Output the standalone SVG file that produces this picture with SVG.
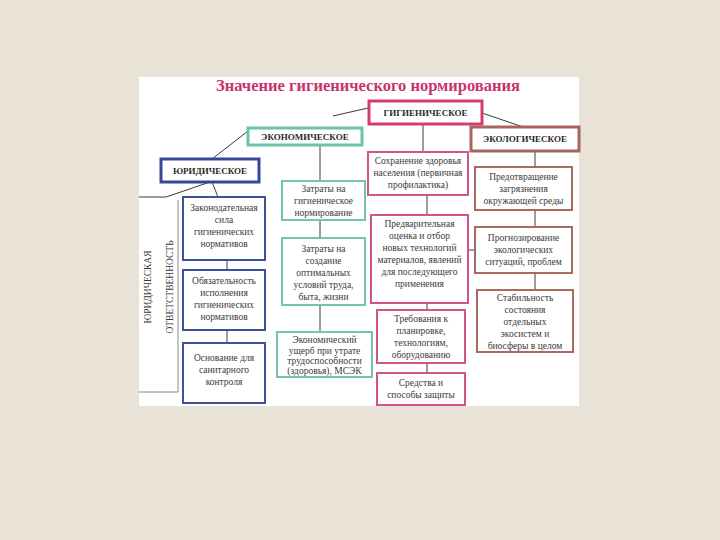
<svg xmlns="http://www.w3.org/2000/svg" width="720" height="540" viewBox="0 0 720 540">
<style>
.t{font-family:"Liberation Serif","DejaVu Serif",serif;font-size:9.5px;fill:#3a3a3a;text-anchor:middle}
.h{font-family:"Liberation Serif","DejaVu Serif",serif;font-size:9px;font-weight:bold;fill:#2a2a2a;text-anchor:middle}
.bl{fill:#fff;stroke:#3d519b;stroke-width:2}
.te{fill:#fff;stroke:#73c4ad;stroke-width:2}
.pk{fill:#fff;stroke:#d2548a;stroke-width:2}
.br{fill:#fff;stroke:#a96a60;stroke-width:2}
.c line,.c polyline{stroke:#3a3a3a;stroke-width:1;fill:none}
</style>
<rect width="720" height="540" fill="#e9e3d7"/>
<rect x="139" y="77" width="440" height="329" fill="#ffffff"/>
<text x="368" y="91" style="font-family:'Liberation Serif',serif;font-size:16.5px;font-weight:bold;fill:#c8336f;text-anchor:middle">Значение гигиенического нормирования</text>

<g class="c" id="connectors">
<line x1="368" y1="108" x2="333" y2="116"/>
<line x1="482" y1="113" x2="535" y2="131"/>
<line x1="248" y1="131" x2="212" y2="159"/>
<line x1="423" y1="124" x2="423" y2="153"/>
<line x1="320" y1="144" x2="320" y2="181"/>
<line x1="535" y1="151" x2="535" y2="167"/>
<line x1="210" y1="182" x2="166" y2="197"/>
<line x1="212" y1="182" x2="218" y2="197"/>
<polyline points="139,197 166,197"/>
<polyline points="178,200 178,392 139,392" style="stroke:#888"/>
<line x1="227" y1="260" x2="227" y2="270"/>
<line x1="227" y1="330" x2="227" y2="343"/>
<line x1="320" y1="220" x2="320" y2="238"/>
<line x1="320" y1="305" x2="320" y2="332"/>
<line x1="427" y1="195" x2="427" y2="215"/>
<line x1="427" y1="303" x2="427" y2="310"/>
<line x1="427" y1="363" x2="427" y2="373"/>
<line x1="468" y1="250" x2="475" y2="250"/>
<line x1="535" y1="210" x2="535" y2="227"/>
<line x1="535" y1="273" x2="535" y2="290"/>
</g>

<g id="resp">
<text class="t" transform="translate(151,287) rotate(-90)">ЮРИДИЧЕСКАЯ</text>
<text class="t" transform="translate(173,287) rotate(-90)">ОТВЕТСТВЕННОСТЬ</text>
</g>

<g id="hyg"><rect x="369" y="101" width="113" height="23" fill="#fff" stroke="#d63a74" stroke-width="3"/><text class="h" x="425.5" y="116">ГИГИЕНИЧЕСКОЕ</text></g>
<g id="econ"><rect x="248" y="128" width="114" height="17" fill="#fff" stroke="#6cc3a9" stroke-width="3"/><text class="h" x="305" y="140">ЭКОНОМИЧЕСКОЕ</text></g>
<g id="ecol"><rect x="471" y="127" width="108" height="24" fill="#fff" stroke="#a6665c" stroke-width="3"/><text class="h" x="525" y="142">ЭКОЛОГИЧЕСКОЕ</text></g>
<g id="jur"><rect x="161" y="159" width="98" height="23" fill="#fff" stroke="#34489a" stroke-width="3"/><text class="h" x="210" y="174">ЮРИДИЧЕСКОЕ</text></g>

<g id="b1"><rect class="bl" x="183" y="197" width="82" height="63"/>
<text class="t" x="224" y="211">Законодательная</text><text class="t" x="224" y="223">сила</text><text class="t" x="224" y="235">гигиенических</text><text class="t" x="224" y="247">нормативов</text></g>
<g id="b2"><rect class="bl" x="183" y="270" width="82" height="60"/>
<text class="t" x="224" y="284">Обязательность</text><text class="t" x="224" y="296">исполнения</text><text class="t" x="224" y="308">гигиенических</text><text class="t" x="224" y="320">нормативов</text></g>
<g id="b3"><rect class="bl" x="183" y="343" width="82" height="60"/>
<text class="t" x="224" y="361">Основание для</text><text class="t" x="224" y="373">санитарного</text><text class="t" x="224" y="385">контроля</text></g>

<g id="e1"><rect class="te" x="282" y="181" width="83" height="39"/>
<text class="t" x="323.5" y="192">Затраты на</text><text class="t" x="323.5" y="204">гигиеническое</text><text class="t" x="323.5" y="216">нормирование</text></g>
<g id="e2"><rect class="te" x="282" y="238" width="83" height="67"/>
<text class="t" x="323.5" y="252">Затраты на</text><text class="t" x="323.5" y="264">создание</text><text class="t" x="323.5" y="276">оптимальных</text><text class="t" x="323.5" y="288">условий труда,</text><text class="t" x="323.5" y="300">быта, жизни</text></g>
<g id="e3"><rect class="te" x="277" y="332" width="95" height="45"/>
<text class="t" x="324.5" y="343">Экономический</text><text class="t" x="324.5" y="353.5">ущерб при утрате</text><text class="t" x="324.5" y="364">трудоспособности</text><text class="t" x="324.5" y="374">(здоровья), МСЭК</text></g>

<g id="g1"><rect class="pk" x="368" y="152" width="100" height="43"/>
<text class="t" x="418" y="164">Сохранение здоровья</text><text class="t" x="418" y="176">населения (первичная</text><text class="t" x="418" y="188">профилактика)</text></g>
<g id="g2"><rect class="pk" x="371" y="215" width="97" height="88"/>
<text class="t" x="419.5" y="227">Предварительная</text><text class="t" x="419.5" y="239">оценка и отбор</text><text class="t" x="419.5" y="251">новых технологий</text><text class="t" x="419.5" y="263">материалов, явлений</text><text class="t" x="419.5" y="275">для последующего</text><text class="t" x="419.5" y="287">применения</text></g>
<g id="g3"><rect class="pk" x="377" y="310" width="88" height="53"/>
<text class="t" x="421" y="322">Требования к</text><text class="t" x="421" y="334">планировке,</text><text class="t" x="421" y="346">технологиям,</text><text class="t" x="421" y="358">оборудованию</text></g>
<g id="g4"><rect class="pk" x="377" y="373" width="88" height="32"/>
<text class="t" x="421" y="386">Средства и</text><text class="t" x="421" y="398">способы защиты</text></g>

<g id="k1"><rect class="br" x="475" y="167" width="97" height="43"/>
<text class="t" x="523.5" y="180">Предотвращение</text><text class="t" x="523.5" y="192">загрязнения</text><text class="t" x="523.5" y="204">окружающей среды</text></g>
<g id="k2"><rect class="br" x="475" y="227" width="97" height="46"/>
<text class="t" x="523.5" y="241">Прогнозирование</text><text class="t" x="523.5" y="253">экологических</text><text class="t" x="523.5" y="265">ситуаций, проблем</text></g>
<g id="k3"><rect class="br" x="477" y="290" width="96" height="62"/>
<text class="t" x="525" y="301">Стабильность</text><text class="t" x="525" y="313">состояния</text><text class="t" x="525" y="325">отдельных</text><text class="t" x="525" y="337">экосистем и</text><text class="t" x="525" y="349">биосферы в целом</text></g>
</svg>
